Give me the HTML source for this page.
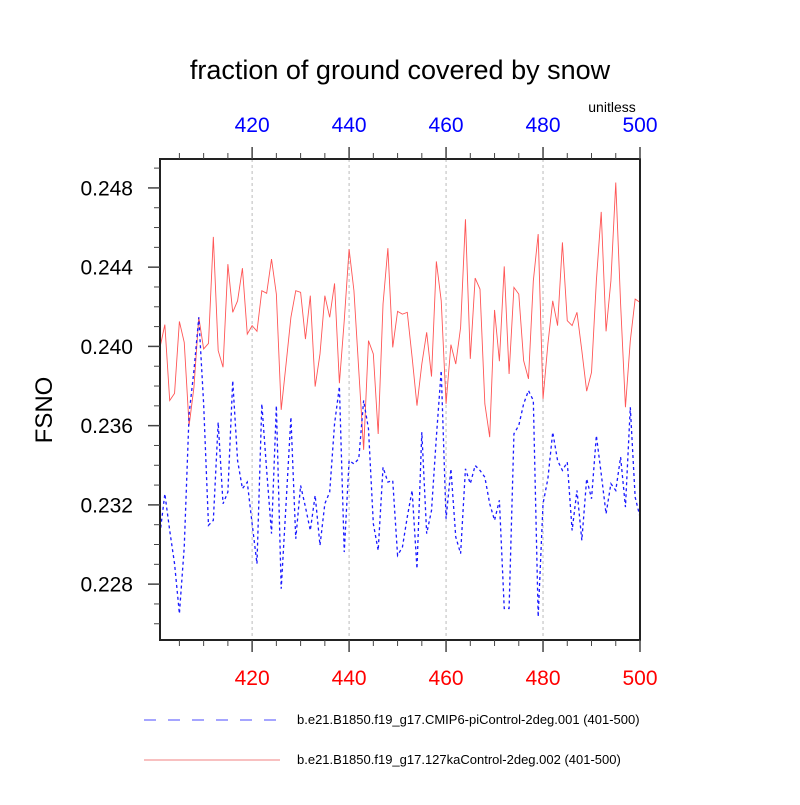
<!DOCTYPE html>
<html><head><meta charset="utf-8"><style>
body{margin:0;background:#fff;}
svg text{font-family:"Liberation Sans",sans-serif;}
</style></head><body>
<svg id="chart" width="800" height="800" viewBox="0 0 800 800" xmlns="http://www.w3.org/2000/svg">
<rect width="800" height="800" fill="#fff"/>
<text x="400" y="79" text-anchor="middle" font-size="27" fill="#000">fraction of ground covered by snow</text>
<text x="612" y="112" text-anchor="middle" font-size="14" fill="#000">unitless</text>
<text x="52" y="410" text-anchor="middle" font-size="24" fill="#000" transform="rotate(-90 52 410)">FSNO</text>
<g id="grid"></g>
<g id="series"></g>
<g id="axes"></g>
<g>
<line x1="144" y1="720" x2="280" y2="720" stroke="#6f6fff" stroke-width="1.2" stroke-dasharray="12,12"/>
<text x="297" y="724" font-size="13" fill="#000">b.e21.B1850.f19_g17.CMIP6-piControl-2deg.001 (401-500)</text>
<line x1="144" y1="760" x2="280" y2="760" stroke="#f08080" stroke-width="1"/>
<text x="297" y="764" font-size="13" fill="#000">b.e21.B1850.f19_g17.127kaControl-2deg.002 (401-500)</text>
</g>
</svg>
<script>
const years = Array.from({length:100},(_,i)=>401+i);
const redSeries = [0.23995,0.24110,0.23727,0.23763,0.24126,0.24020,0.23600,0.23794,0.24147,0.23987,
0.24015,0.24553,0.23979,0.23895,0.24415,0.24172,0.24230,0.24395,0.24062,0.24105,
0.24076,0.24281,0.24268,0.24441,0.24264,0.23680,0.23911,0.24147,0.24281,0.24273,
0.24037,0.24256,0.23797,0.23962,0.24256,0.24147,0.24318,0.23814,0.24130,0.24491,
0.24281,0.23878,0.23478,0.24029,0.23962,0.23558,0.24214,0.24496,0.23995,0.24177,
0.24163,0.24172,0.23945,0.23701,0.23911,0.24071,0.23848,0.24429,0.24231,0.23710,
0.24009,0.23911,0.24096,0.24642,0.23937,0.24345,0.24289,0.23710,0.23542,0.24184,
0.23925,0.24404,0.23861,0.24298,0.24264,0.23928,0.23836,0.24331,0.24567,0.23735,
0.24012,0.24230,0.24105,0.24525,0.24130,0.24105,0.24172,0.23979,0.23774,0.23869,
0.24331,0.24679,0.24076,0.24331,0.24827,0.24214,0.23693,0.24029,0.24239,0.24222];
const blueSeries = [0.23055,0.23256,0.23071,0.22903,0.22651,0.22987,0.23659,0.23878,0.24147,0.23710,
0.23097,0.23122,0.23617,0.23206,0.23265,0.23827,0.23424,0.23282,0.23315,0.23105,
0.22903,0.23710,0.23374,0.23055,0.23701,0.22777,0.23206,0.23643,0.23029,0.23298,
0.23189,0.23071,0.23248,0.22996,0.23206,0.23265,0.23609,0.23797,0.22962,0.23424,
0.23407,0.23433,0.23727,0.23584,0.23105,0.22970,0.23390,0.23315,0.23323,0.22945,
0.22987,0.23139,0.23273,0.22878,0.23567,0.23055,0.23172,0.23542,0.23878,0.23130,
0.23382,0.23038,0.22954,0.23382,0.23307,0.23399,0.23374,0.23340,0.23206,0.23122,
0.23223,0.22677,0.22677,0.23559,0.23601,0.23710,0.23777,0.23727,0.22635,0.23206,
0.23332,0.23567,0.23424,0.23374,0.23416,0.23071,0.23273,0.23021,0.23332,0.23231,
0.23550,0.23357,0.23155,0.23307,0.23273,0.23441,0.23189,0.23693,0.23239,0.23139];
const xTicks = [420,440,460,480,500];
const yTicks = [0.228,0.232,0.236,0.240,0.244,0.248];

const L=160,R=640,T=159,B=640;
const xMin=401,xMax=500,yMin=0.22518,yMax=0.24946;
const xs=v=>L+(v-xMin)/(xMax-xMin)*(R-L);
const ys=v=>B-(v-yMin)/(yMax-yMin)*(B-T);
const NS='http://www.w3.org/2000/svg';
function mk(tag,attrs,parent){const e=document.createElementNS(NS,tag);for(const k in attrs)e.setAttribute(k,attrs[k]);parent.appendChild(e);return e;}
const grid=document.getElementById('grid'),series=document.getElementById('series'),axes=document.getElementById('axes');

xTicks.forEach(t=>{if(t<xMax){const g=mk('line',{x1:xs(t),x2:xs(t),y1:T,y2:B,stroke:'#bbb','stroke-width':1,'stroke-dasharray':'3,3'},grid);

}});

function path(vals,attrs,name){
  const d=vals.map((v,i)=>(i?'L':'M')+xs(years[i]).toFixed(2)+','+ys(v).toFixed(2)).join('');
  const p=mk('path',Object.assign({d:d,fill:'none'},attrs),series);
  
  
}
path(redSeries,{stroke:'#ff5555','stroke-width':0.9},'line-127ka-control');
path(blueSeries,{stroke:'#1a1aff','stroke-width':1.3,'stroke-dasharray':'3,3'},'line-picontrol');

const frame=mk('rect',{x:L,y:T,width:R-L,height:B-T,fill:'none',stroke:'#222','stroke-width':2},axes);



for(let t=405;t<=500;t+=5){
  const major=t%20===0;const len=major?12:6;const x=xs(t);
  mk('line',{x1:x,x2:x,y1:B,y2:B+len,stroke:'#444','stroke-width':major?1.5:1},axes);
  mk('line',{x1:x,x2:x,y1:T,y2:T-len,stroke:'#444','stroke-width':major?1.5:1},axes);
}
xTicks.forEach(t=>{
  const b=mk('text',{x:xs(t),y:685,'text-anchor':'middle','font-size':21,fill:'#ff0000'},axes);b.textContent=t;
  
  
  const tp=mk('text',{x:xs(t),y:132,'text-anchor':'middle','font-size':21,fill:'#0000ff'},axes);tp.textContent=t;
  
  
});
for(let k=226;k<=249;k++){
  const v=k/1000;if(v<yMin||v>yMax)continue;
  const major=yTicks.some(t=>Math.abs(t-v)<1e-6);const y=ys(v);
  mk('line',{x1:L-(major?12:6),x2:L,y1:y,y2:y,stroke:'#444','stroke-width':major?1.5:1},axes);
}
yTicks.forEach(t=>{
  const e=mk('text',{x:133,y:ys(t)+7.5,'text-anchor':'end','font-size':21,fill:'#000'},axes);e.textContent=t.toFixed(3);
  
  
});
</script>
</body></html>
